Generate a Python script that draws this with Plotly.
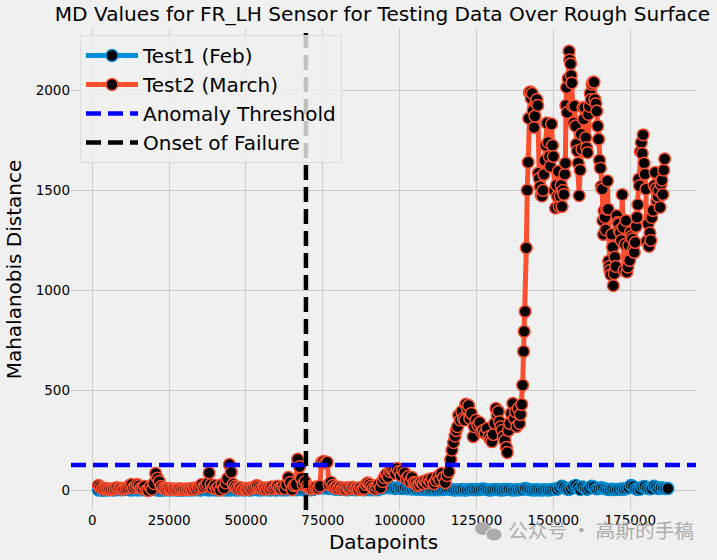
import plotly.graph_objects as go

title = "MD Values for FR_LH Sensor for Testing Data Over Rough Surface"
threshold = 127
onset = 69500
x_ticks = [0, 25000, 50000, 75000, 100000, 125000, 150000, 175000]
y_ticks = [0, 500, 1000, 1500, 2000]

test1_y = [
    2,3,1,4,2,5,3,2,6,4,3,5,8,4,2,3,6,2,4,3,
    5,3,2,4,6,3,2,1,3,2,4,2,3,5,2,1,3,2,4,3,
    2,4,3,5,2,3,6,4,2,3,5,2,4,3,6,2,3,2,5,3,
    2,3,4,2,5,3,2,4,7,3,2,4,3,5,2,3,4,2,6,3,
    4,2,5,3,6,4,3,8,5,3,4,6,3,5,8,11,13,14,12,14,
    10,12,8,6,9,5,7,4,3,5,6,4,3,5,4,3,4,6,3,4,
    5,3,8,10,14,16,13,15,12,10,14,11,9,13,8,10,7,9,6,8,
    5,7,4,6,3,5,4,3,5,4,6,8,7,5,3,2,4,3,5,2,
    3,4,6,3,5,4,7,8,6,3,2,4,6,5,3,2,5,4,6,3,
    2,4,3,6,5,10,8,4,3,2,4,3,2,3,4,2,3,5,8,6,
    14,22,16,8,5,10,20,25,15,5,18,10,6,12,22,18,8,10,14,12,
    8,6,5,7,4,6,5,8,6,10,14,25,20,8,5,7,18,20,12,8,
    10,22,16,9,14,12,10,10,
]
test1_x = list(range(2000, 2000 + 750 * len(test1_y), 750))

test2_low_y = [
    25,18,10,8,10,6,8,5,8,10,
    14,9,12,7,8,12,18,26,30,14,
    22,30,24,12,10,20,2,0,18,6,
    35,85,62,45,20,12,8,6,10,7,
    5,8,4,6,9,5,7,4,8,6,
    9,6,12,8,16,22,30,18,26,35,
    88,30,12,25,8,18,2,30,12,38,
    60,130,92,32,20,12,8,14,6,10,
    8,6,12,9,16,20,24,18,10,8,
    12,7,14,10,18,8,15,22,12,9,
    20,10,30,65,40,5,25,30,157,119,
    60,30,45,22,15,10,8,14,18,12,
    22,140,145,138,142,30,42,25,14,18,
    10,16,8,12,6,14,10,8,15,9,
    12,6,14,5,9,30,38,32,22,12,
    8,18,30,15,45,65,80,70,95,105,
    100,85,110,95,75,100,88,60,70,45,
    65,40,35,25,30,42,35,48,40,55,
    45,60,35,50,70,55,85,65,40,75,
]
test2_low_x = list(range(2000, 2000 + 600 * len(test2_low_y), 600))

test2_high_x = [
    116000,116600,117000,117500,118000,118400,118800,119200,119700,120200,
    120700,121200,121500,122000,122400,122800,123300,123900,124300,124800,
    125400,126000,126600,127200,127800,128400,129000,129500,130000,130400,
    130900,131300,131700,132100,132500,132900,133300,133700,134200,134700,
    135000,135400,135800,136300,136800,137300,137700,138100,138600,139000,
    139300,139700,140000,140300,140500,140800,141200,141500,141800,142000,
    142200,142500,142800,143100,143400,143700,144000,144300,144600,144900,
    145100,145400,145700,146000,146300,146600,146900,147200,147500,147900,
    148300,148700,149000,149400,149700,150000,150400,150700,151000,151300,
    151600,151900,152200,152500,152800,153100,153400,153700,153900,154100,
    154300,154500,154800,155100,155300,155600,155800,156000,156300,156600,
    156900,157200,157500,157800,158100,158400,158700,159000,159300,159600,
    159900,160200,160500,160800,161100,161400,161700,162000,162300,162600,
    162900,163200,163500,163800,164100,164400,164700,165000,165300,165600,
    165900,166100,166300,166500,166800,167000,167300,167600,167800,168000,
    168200,168400,168700,169000,169300,169500,169800,170000,170300,170600,
    170900,171200,171500,171800,172100,172400,172700,173000,173300,173600,
    173900,174200,174500,174800,175100,175400,175700,176000,176300,176600,
    176900,177200,177500,177800,178000,178300,178600,178900,179200,179500,
    179800,180100,180400,180800,181100,181400,181700,182000,182400,182800,
    183100,183400,183700,184000,184300,184700,185000,185300,185600,185900,
    186200,
]
test2_high_y = [
    94,155,202,240,272,300,319,377,352,395,
    360,352,432,410,425,360,385,269,319,352,
    327,340,294,300,285,310,269,255,244,280,
    335,410,377,395,344,319,300,269,250,215,
    190,300,335,385,435,360,394,320,410,335,
    380,430,527,695,795,895,1213,1502,1641,1860,
    1990,1992,1960,1985,1900,1815,1872,1940,1955,1925,
    1587,1560,1519,1477,1472,1500,1580,1650,1725,1837,
    1740,1670,1620,1832,1725,1670,1500,1412,1527,1472,
    1595,1420,1472,1527,1420,1500,1480,1582,1636,1925,
    2015,1890,2060,2196,2153,2133,2075,2038,1920,1838,
    1922,1822,1731,1698,1637,1474,1602,1781,1706,1914,
    1856,1914,1764,1714,1689,1880,1920,1985,1955,2030,
    2041,2041,1955,1934,1897,1822,1756,1651,1612,1520,
    1507,1349,1280,1399,1366,1303,1407,1548,1407,1147,
    1120,1100,1079,1280,1216,1024,1084,1167,1120,1374,
    1340,1333,1300,1290,1250,1479,1316,1100,1230,1349,
    1092,1117,1225,1150,1291,1270,1258,1208,1190,1240,
    1320,1366,1429,1557,1524,1694,1739,1685,1778,1636,
    1582,1507,1246,1333,1221,1288,1250,1364,1400,1524,
    1590,1510,1449,1470,1500,1416,1532,1552,1480,1602,
    1658,
]
test2_x = test2_low_x + test2_high_x
test2_y = test2_low_y + test2_high_y

X_RANGE = [-6930, 196400]
Y_RANGE = [-97.5, 2307]
FONT = "DejaVu Sans"

fig = go.Figure()
fig.add_trace(go.Scatter(x=test1_x, y=test1_y, mode="lines+markers", name="Test1 (Feb)",
    line=dict(color="#008fd5", width=5),
    marker=dict(color="black", size=11.8, line=dict(color="#008fd5", width=1.5))))
fig.add_trace(go.Scatter(x=test2_x, y=test2_y, mode="lines+markers", name="Test2 (March)",
    line=dict(color="#fc4f30", width=5),
    marker=dict(color="black", size=11.8, line=dict(color="#fc4f30", width=1.5))))
fig.add_trace(go.Scatter(x=X_RANGE, y=[threshold, threshold], mode="lines", name="Anomaly Threshold",
    line=dict(color="#0000ff", width=4.5, dash="15px,7px")))
fig.add_trace(go.Scatter(x=[onset, onset], y=Y_RANGE, mode="lines", name="Onset of Failure",
    line=dict(color="black", width=4.5, dash="15px,7px")))

axis = dict(showgrid=True, gridcolor="#cbcbcb", gridwidth=1.3, zeroline=False, showline=False,
            ticks="", tickangle=0, automargin=False, tickfont=dict(size=13.5, color="black", family=FONT))
fig.update_layout(
    width=717, height=560, autosize=False,
    margin=dict(l=71, r=21, t=29, b=50, autoexpand=False),
    paper_bgcolor="#f0f0f0", plot_bgcolor="#f0f0f0",
    font=dict(family=FONT, color="black"),
    title=dict(text=title, font=dict(size=20.1, family=FONT, color="black"),
               x=382.5 / 717, xanchor="center", y=0.975, yanchor="middle", automargin=False),
    xaxis=dict(axis, range=X_RANGE, tickvals=x_ticks, ticktext=[str(v) for v in x_ticks],
               title=dict(text="Datapoints", font=dict(size=20, family=FONT), standoff=8)),
    yaxis=dict(axis, range=Y_RANGE, tickvals=y_ticks, ticktext=[str(v) for v in y_ticks],
               title=dict(text="Mahalanobis Distance", font=dict(size=20, family=FONT), standoff=8)),
    legend=dict(x=(80 - 71) / 625, y=1 - (35 - 29) / 481,
                xanchor="left", yanchor="top",
                bgcolor="rgba(240,240,240,0.8)", bordercolor="#dddddd", borderwidth=1,
                font=dict(size=20, family=FONT, color="black"), itemwidth=52),
    annotations=[dict(text="公众号 · 高斯的手稿", xref="paper", yref="paper", x=(506 - 71) / 625,
                      y=-(529 - 510) / 481, xanchor="left", yanchor="middle", showarrow=False,
                      font=dict(size=19.7, color="#ababab", family="Noto Sans CJK SC"))],
    shapes=[
        dict(type="circle", xref="paper", yref="paper", layer="above", fillcolor="#ababab", line_width=0,
             x0=(475 - 71) / 625, x1=(491 - 71) / 625, y0=-(535 - 510) / 481, y1=-(522 - 510) / 481),
        dict(type="circle", xref="paper", yref="paper", layer="above", fillcolor="#ababab", line=dict(color="#f0f0f0", width=1),
             x0=(486 - 71) / 625, x1=(502 - 71) / 625, y0=-(541 - 510) / 481, y1=-(528 - 510) / 481),
    ],
)
fig.write_html("out.html", config={"displayModeBar": False},
               post_script="document.body.style.margin='0';document.body.style.background='#f0f0f0';")
